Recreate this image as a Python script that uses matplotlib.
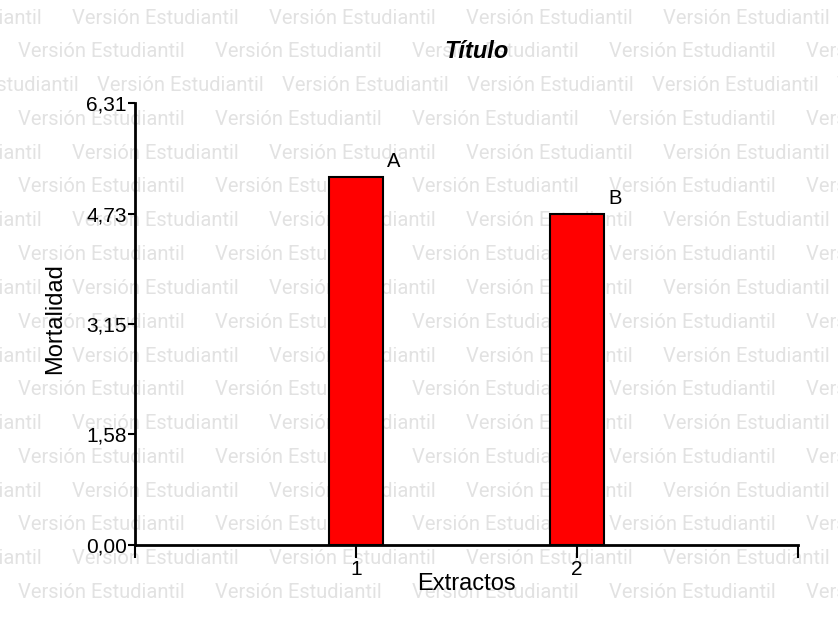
import matplotlib
matplotlib.use("Agg")
import matplotlib.pyplot as plt

# datos
extractos = [1, 2]
mortalidad = [5.26, 4.73]
letras = ["A", "B"]
yticks = [0.00, 1.58, 3.15, 4.73, 6.31]

plt.rcParams['font.family'] = ['Liberation Sans', 'DejaVu Sans']

fig = plt.figure(figsize=(8.38, 6.35), dpi=100)
ax = fig.add_axes([135/838, 90/635, 663/838, 442/635])
ax.patch.set_alpha(0)

# marca de agua
wm_rows = [18 + 33.8*i for i in range(18)]
for i, yp in enumerate(wm_rows):
    if i == 2:
        x0, per = 97 - 185, 185
    elif i % 2 == 0:
        x0, per = 72 - 197, 197
    else:
        x0, per = 18, 197
    x = x0
    while x < 838:
        fig.text(x/838, 1 - yp/635, "Versión Estudiantil", family='Roboto',
                 fontsize=14.5, color='#e2e2e2', va='center', ha='left', zorder=-1)
        x += per

ax.bar(extractos, mortalidad, width=0.245, color='#ff0000',
       edgecolor='black', linewidth=1.5)
for xi, h, l in zip(extractos, mortalidad, letras):
    ax.text(xi + 0.17, h + 0.08, l, ha='center', va='bottom', fontsize=14.5)

ax.set_xlim(0, 3)
ax.set_ylim(0, 6.31)
ax.set_xticks([0, 1, 2, 3])
ax.set_xticklabels(['', '1', '2', ''])
ax.set_yticks(yticks)
ax.set_yticklabels([f"{v:.2f}".replace('.', ',') for v in yticks])
ax.tick_params(axis='x', length=9, width=1.5, labelsize=15, pad=2)
ax.tick_params(axis='y', length=5, width=1.5, labelsize=15, pad=1)

for s in ['top', 'right']:
    ax.spines[s].set_visible(False)
for s in ['left', 'bottom']:
    ax.spines[s].set_linewidth(2)

ax.set_xlabel('Extractos', fontsize=17)
ax.xaxis.set_label_coords(0.5, -0.063)
ax.set_ylabel('Mortalidad', fontsize=17, va='center')
ax.yaxis.set_label_coords(-0.12, 0.513)
fig.text(476/838, 1 - 52/635, 'Título', fontsize=17, fontweight='bold',
         fontstyle='italic', ha='center', va='center')

fig.savefig('out.png', dpi=100)
